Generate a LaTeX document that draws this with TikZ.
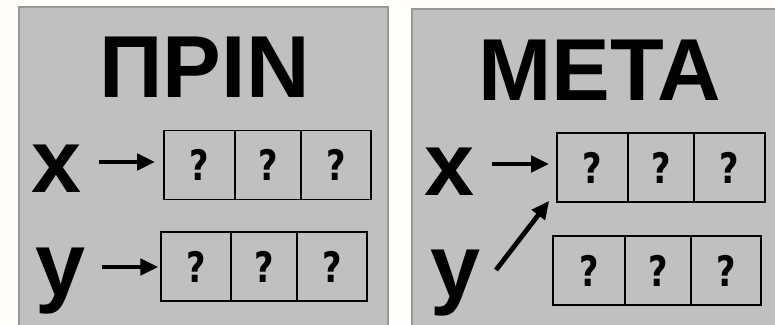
\documentclass[tikz,border=0pt]{standalone}
\usepackage{fontspec}
\setmainfont{Liberation Sans}
\newfontfamily\qfont{DejaVu Sans}
\usetikzlibrary{arrows.meta,calc}
\definecolor{panelfill}{HTML}{C0C0C0}
\definecolor{panelline}{HTML}{989898}
\definecolor{pagebg}{HTML}{FFFEFB}
\newcommand{\qm}{\scalebox{0.8}[1]{?}}
\tikzset{
  panel/.style={fill=panelfill, draw=panelline, line width=2pt},
  cell/.style={draw=black, line width=1.6pt, minimum height=69pt, inner sep=0pt,
    font=\qfont\bfseries\fontsize{42}{42}\selectfont},
  lbl/.style={inner sep=0pt, font=\bfseries\fontsize{90}{90}\selectfont},
  ttl/.style={inner sep=0pt, font=\bfseries\fontsize{88}{88}\selectfont},
  arr/.style={line width=4.8pt, -{Triangle[length=18pt,width=16pt]}}
}
\begin{document}
\begin{tikzpicture}[x=1pt,y=-1pt]
  \fill[pagebg] (0,0) rectangle (775,324);
  \useasboundingbox (0,0) rectangle (775,324);
  % panels
  \draw[panel] (19,7) rectangle (388,340);
  \draw[panel] (412,9) rectangle (790,340);
  % titles
  \node[ttl, anchor=base] (t1) at (204.5,97) {ΠΡΙΝ};
  \node[ttl, anchor=base] (t2) at (600,100) {ΜΕΤΑ};
  % left panel labels
  \node[lbl, anchor=base west] (x1) at (31,192) {x};
  \node[lbl, anchor=base west] (y1) at (35,295) {y};
  % right panel labels
  \node[lbl, anchor=base west] (x2) at (424,195) {x};
  \node[lbl, anchor=base west] (y2) at (430,297) {y};
  % left row 1 cells
  \node[cell, minimum width=71pt] (a1) at (199.5,165) {\qm};
  \node[cell, minimum width=66pt] (a2) at (268,165) {\qm};
  \node[cell, minimum width=70pt] (a3) at (336,165) {\qm};
  % left row 2 cells
  \node[cell, minimum width=70.3pt] (b1) at (195.9,266.7) {\qm};
  \node[cell, minimum width=65.7pt] (b2) at (263.9,266.7) {\qm};
  \node[cell, minimum width=70.3pt] (b3) at (331.9,266.7) {\qm};
  % right row 1 cells
  \node[cell, minimum width=71pt] (c1) at (592.5,167.5) {\qm};
  \node[cell, minimum width=66pt] (c2) at (661,167.5) {\qm};
  \node[cell, minimum width=71pt] (c3) at (729.5,167.5) {\qm};
  % right row 2 cells
  \node[cell, minimum width=72pt] (d1) at (589,270.5) {\qm};
  \node[cell, minimum width=66pt] (d2) at (658,270.5) {\qm};
  \node[cell, minimum width=70pt] (d3) at (726,270.5) {\qm};
  % arrow start points
  \coordinate (xs1) at (99,162);
  \coordinate (ys1) at (102,267);
  \coordinate (xs2) at (492,164);
  \coordinate (ys2) at (496,270);
  % arrows
  \draw[arr, shorten >=8pt] (xs1) -- (xs1 -| a1.west);
  \draw[arr, shorten >=1.5pt] (ys1) -- (ys1 -| b1.west);
  \draw[arr, shorten >=7pt] (xs2) -- (xs2 -| c1.west);
  \draw[arr] (ys2) -- ($(c1.south west)+(-7,-2)$);
\end{tikzpicture}
\end{document}
